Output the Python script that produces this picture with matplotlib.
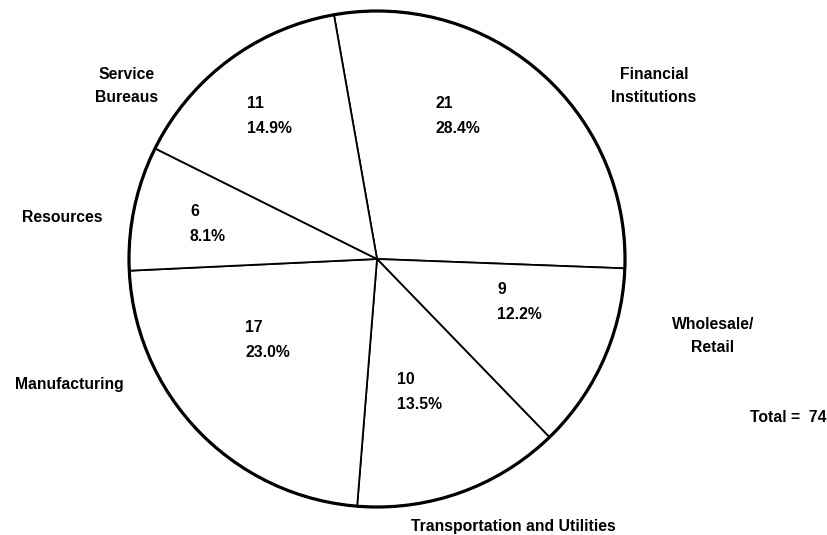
import matplotlib
matplotlib.use("Agg")
import matplotlib.pyplot as plt
from matplotlib.patches import Circle

# Data: number of installations by industry
categories = ["Financial\nInstitutions", "Wholesale/\nRetail", "Transportation and Utilities",
              "Manufacturing", "Resources", "Service\nBureaus"]
counts = [21, 9, 10, 17, 6, 11]
percents = ["28.4%", "12.2%", "13.5%", "23.0%", "8.1%", "14.9%"]
total = 74

W, H = 827, 535
fig = plt.figure(figsize=(W / 100, H / 100), dpi=100)
ax = fig.add_axes([0, 0, 1, 1])

cx, cy, r = 377, H - 259, 248

ax.pie(counts, center=(cx, cy), radius=r, startangle=100, counterclock=False,
       colors=["white"] * len(counts),
       wedgeprops=dict(edgecolor="black", linewidth=1.3), frame=True)
ax.set_xlim(0, W)
ax.set_ylim(0, H)
ax.set_aspect("equal")
ax.axis("off")
ax.add_patch(Circle((cx, cy), r, fill=False, edgecolor="black", linewidth=2.3, zorder=5))

font = "Liberation Sans"
fs = 11.3
lab_kw = dict(fontsize=fs, fontweight="bold", family=font, color="black",
              linespacing=1.62, ha="center", va="center")
val_kw = dict(fontsize=fs, fontweight="bold", family=font, color="black",
              linespacing=1.8, ha="left", va="center")

# category label positions (pixel coords from top)
label_pos = [(654, 86), (713, 336), (513, 527), (69, 385), (62, 217), (127, 86)]
# value label positions (left edge, centre of the two lines)
value_pos = [(436, 116), (497, 302), (397, 392), (245, 340), (190, 224), (247, 116)]

for cat, (x, y) in zip(categories, label_pos):
    ax.text(x, H - y, cat, **lab_kw)

for n, p, (x, y) in zip(counts, percents, value_pos):
    ax.text(x, H - y, f"{n}\n{p}", **val_kw)

ax.text(826, H - 417, f"Total =  {total}", ha="right", va="center",
        fontsize=fs, fontweight="bold", family=font)

fig.savefig("out.png", dpi=100, facecolor="white")
